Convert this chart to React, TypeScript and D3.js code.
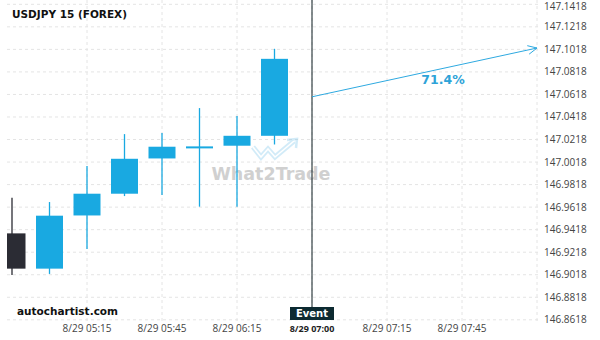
import React from "react";
import * as d3 from "d3";

const title = "USDJPY 15 (FOREX)";
const candleTimes = ["04:45", "05:00", "05:15", "05:30", "05:45", "06:00", "06:15", "06:30"];
const opens = [146.9385, 146.9072, 146.9544, 146.9737, 147.005, 147.0154, 147.0163, 147.0251];
const highs = [146.9701, 146.9663, 146.9983, 147.0266, 147.0275, 147.0497, 147.0426, 147.1023];
const lows = [146.9016, 146.9025, 146.9246, 146.9716, 146.9725, 146.9622, 146.9622, 147.0174];
const closes = [146.9072, 146.9542, 146.9737, 147.0047, 147.0154, 147.0157, 147.0251, 147.0934];
const yTicks = [146.8618, 146.8818, 146.9018, 146.9218, 146.9418, 146.9618, 146.9818, 147.0018, 147.0218, 147.0418, 147.0618, 147.0818, 147.1018, 147.1218, 147.1418];
const xTickTimes = ["05:15", "05:45", "06:15", "06:45", "07:15", "07:45", "08:15"];
const xTickLabels = ["8/29 05:15", "8/29 05:45", "8/29 06:15", "", "8/29 07:15", "8/29 07:45", ""];
const eventTime = "06:45";
const eventLabel = "8/29 07:00";
const arrowStart = { time: "06:45", value: 147.0597 };
const arrowEnd = { time: "08:15", value: 147.103 };
const probability = "71.4%";

const t = (s: string) => {
  const [h, m] = s.split(":").map(Number);
  return new Date(Date.UTC(2023, 7, 29, h, m));
};

export default function App() {
  const W = 600, H = 340;
  const plotL = 7, plotR = 540, plotT = 0, plotB = 322;
  const x = d3.scaleUtc().domain([t("04:45"), t("08:15")]).range([12, 537]);
  const y = d3.scaleLinear().domain([146.8618, 147.1418]).range([319.8, 4.3]);
  const bw = 27;
  const blue = "#19a9e1";
  const dark = "#2b2c34";
  const arrowColor = "#2ea9e0";
  const fontAxis = "'Open Sans', sans-serif";

  const ax = x(t(arrowStart.time)), ay = y(arrowStart.value);
  const bx = x(t(arrowEnd.time)), by = y(arrowEnd.value);
  const ang = Math.atan2(by - ay, bx - ax);
  const hl = 10, ha = 0.45;
  const h1 = [bx - hl * Math.cos(ang - ha), by - hl * Math.sin(ang - ha)];
  const h2 = [bx - hl * Math.cos(ang + ha), by - hl * Math.sin(ang + ha)];
  const ex = x(t(eventTime));

  return (
    <svg width={W} height={H} style={{ position: "absolute", left: 0, top: 0, background: "#fff" }}>
      <defs>
        <clipPath id="plot">
          <rect x={plotL} y={plotT} width={plotR - plotL} height={plotB - plotT} />
        </clipPath>
      </defs>
      {yTicks.map((v) => (
        <line key={"h" + v} x1={plotL} x2={plotR} y1={y(v)} y2={y(v)} stroke="#e4e4e4" strokeDasharray="3,3" />
      ))}
      {xTickTimes.map((s) => (
        <line key={"v" + s} x1={x(t(s))} x2={x(t(s))} y1={plotT} y2={plotB} stroke="#e4e4e4" strokeDasharray="3,3" />
      ))}
      {/* watermark */}
      <g opacity={0.3} fill="none" stroke="#6cc0ea" strokeLinejoin="miter">
        <path d="M253,147 L261,157 L268,149 L275,157 L294,141" strokeWidth={5} />
        <path d="M253,147 L261,157 L268,149 L275,157 L294,141" strokeWidth={1.6} stroke="#fff" />
        <path d="M287,140 L297,139 L296,148" strokeWidth={2.5} />
      </g>
      <text x={271} y={180} textAnchor="middle" fontFamily="'DejaVu Sans', sans-serif" fontWeight="bold" fontSize={17.5} fill="#d0d0d0">What2Trade</text>
      <g clipPath="url(#plot)">
        {candleTimes.map((s, i) => {
          const cx = x(t(s));
          const up = closes[i] >= opens[i];
          const col = up ? blue : dark;
          const top = y(Math.max(opens[i], closes[i]));
          const bot = y(Math.min(opens[i], closes[i]));
          return (
            <g key={s}>
              <line x1={cx} x2={cx} y1={y(highs[i])} y2={y(lows[i])} stroke={col} strokeWidth={1.3} />
              <rect x={cx - bw / 2} y={top} width={bw} height={Math.max(2, bot - top)} fill={col} />
            </g>
          );
        })}
      </g>
      <line x1={ex} x2={ex} y1={0} y2={307} stroke="#0c1c20" strokeWidth={1} />
      <line x1={ax} y1={ay} x2={bx} y2={by} stroke={arrowColor} strokeWidth={1} />
      <polyline points={`${h1[0]},${h1[1]} ${bx},${by} ${h2[0]},${h2[1]}`} fill="none" stroke={arrowColor} strokeWidth={1} />
      <text x={443} y={84} textAnchor="middle" fontFamily="'DejaVu Sans', sans-serif" fontWeight="bold" fontSize={12.5} fill="#2ea3d8">{probability}</text>
      <text x={12} y={18} fontFamily="'DejaVu Sans', sans-serif" fontWeight="bold" fontSize={10.5} fill="#111">{title}</text>
      {yTicks.map((v) => (
        <text key={"yl" + v} x={544} y={Math.max(y(v), 6.5)} dy="0.35em" fontFamily={fontAxis} fontSize={10} fill="#444">{v.toFixed(4)}</text>
      ))}
      {xTickTimes.map((s, i) =>
        xTickLabels[i] ? (
          <text key={"xl" + s} x={x(t(s))} y={332} textAnchor="middle" fontFamily={fontAxis} fontSize={10} fill="#444">{xTickLabels[i]}</text>
        ) : null
      )}
      <rect x={ex - 22} y={307} width={44} height={13} fill="#0d2a31" />
      <text x={ex} y={317} textAnchor="middle" fontFamily="'DejaVu Sans', sans-serif" fontWeight="bold" fontSize={10} fill="#fff">Event</text>
      <text x={ex} y={332} textAnchor="middle" fontFamily={fontAxis} fontWeight="bold" fontSize={9} fill="#222">{eventLabel}</text>
      <text x={17} y={315} fontFamily="'DejaVu Sans', sans-serif" fontWeight="bold" fontSize={10.5} fill="#111">autochartist.com</text>
    </svg>
  );
}
